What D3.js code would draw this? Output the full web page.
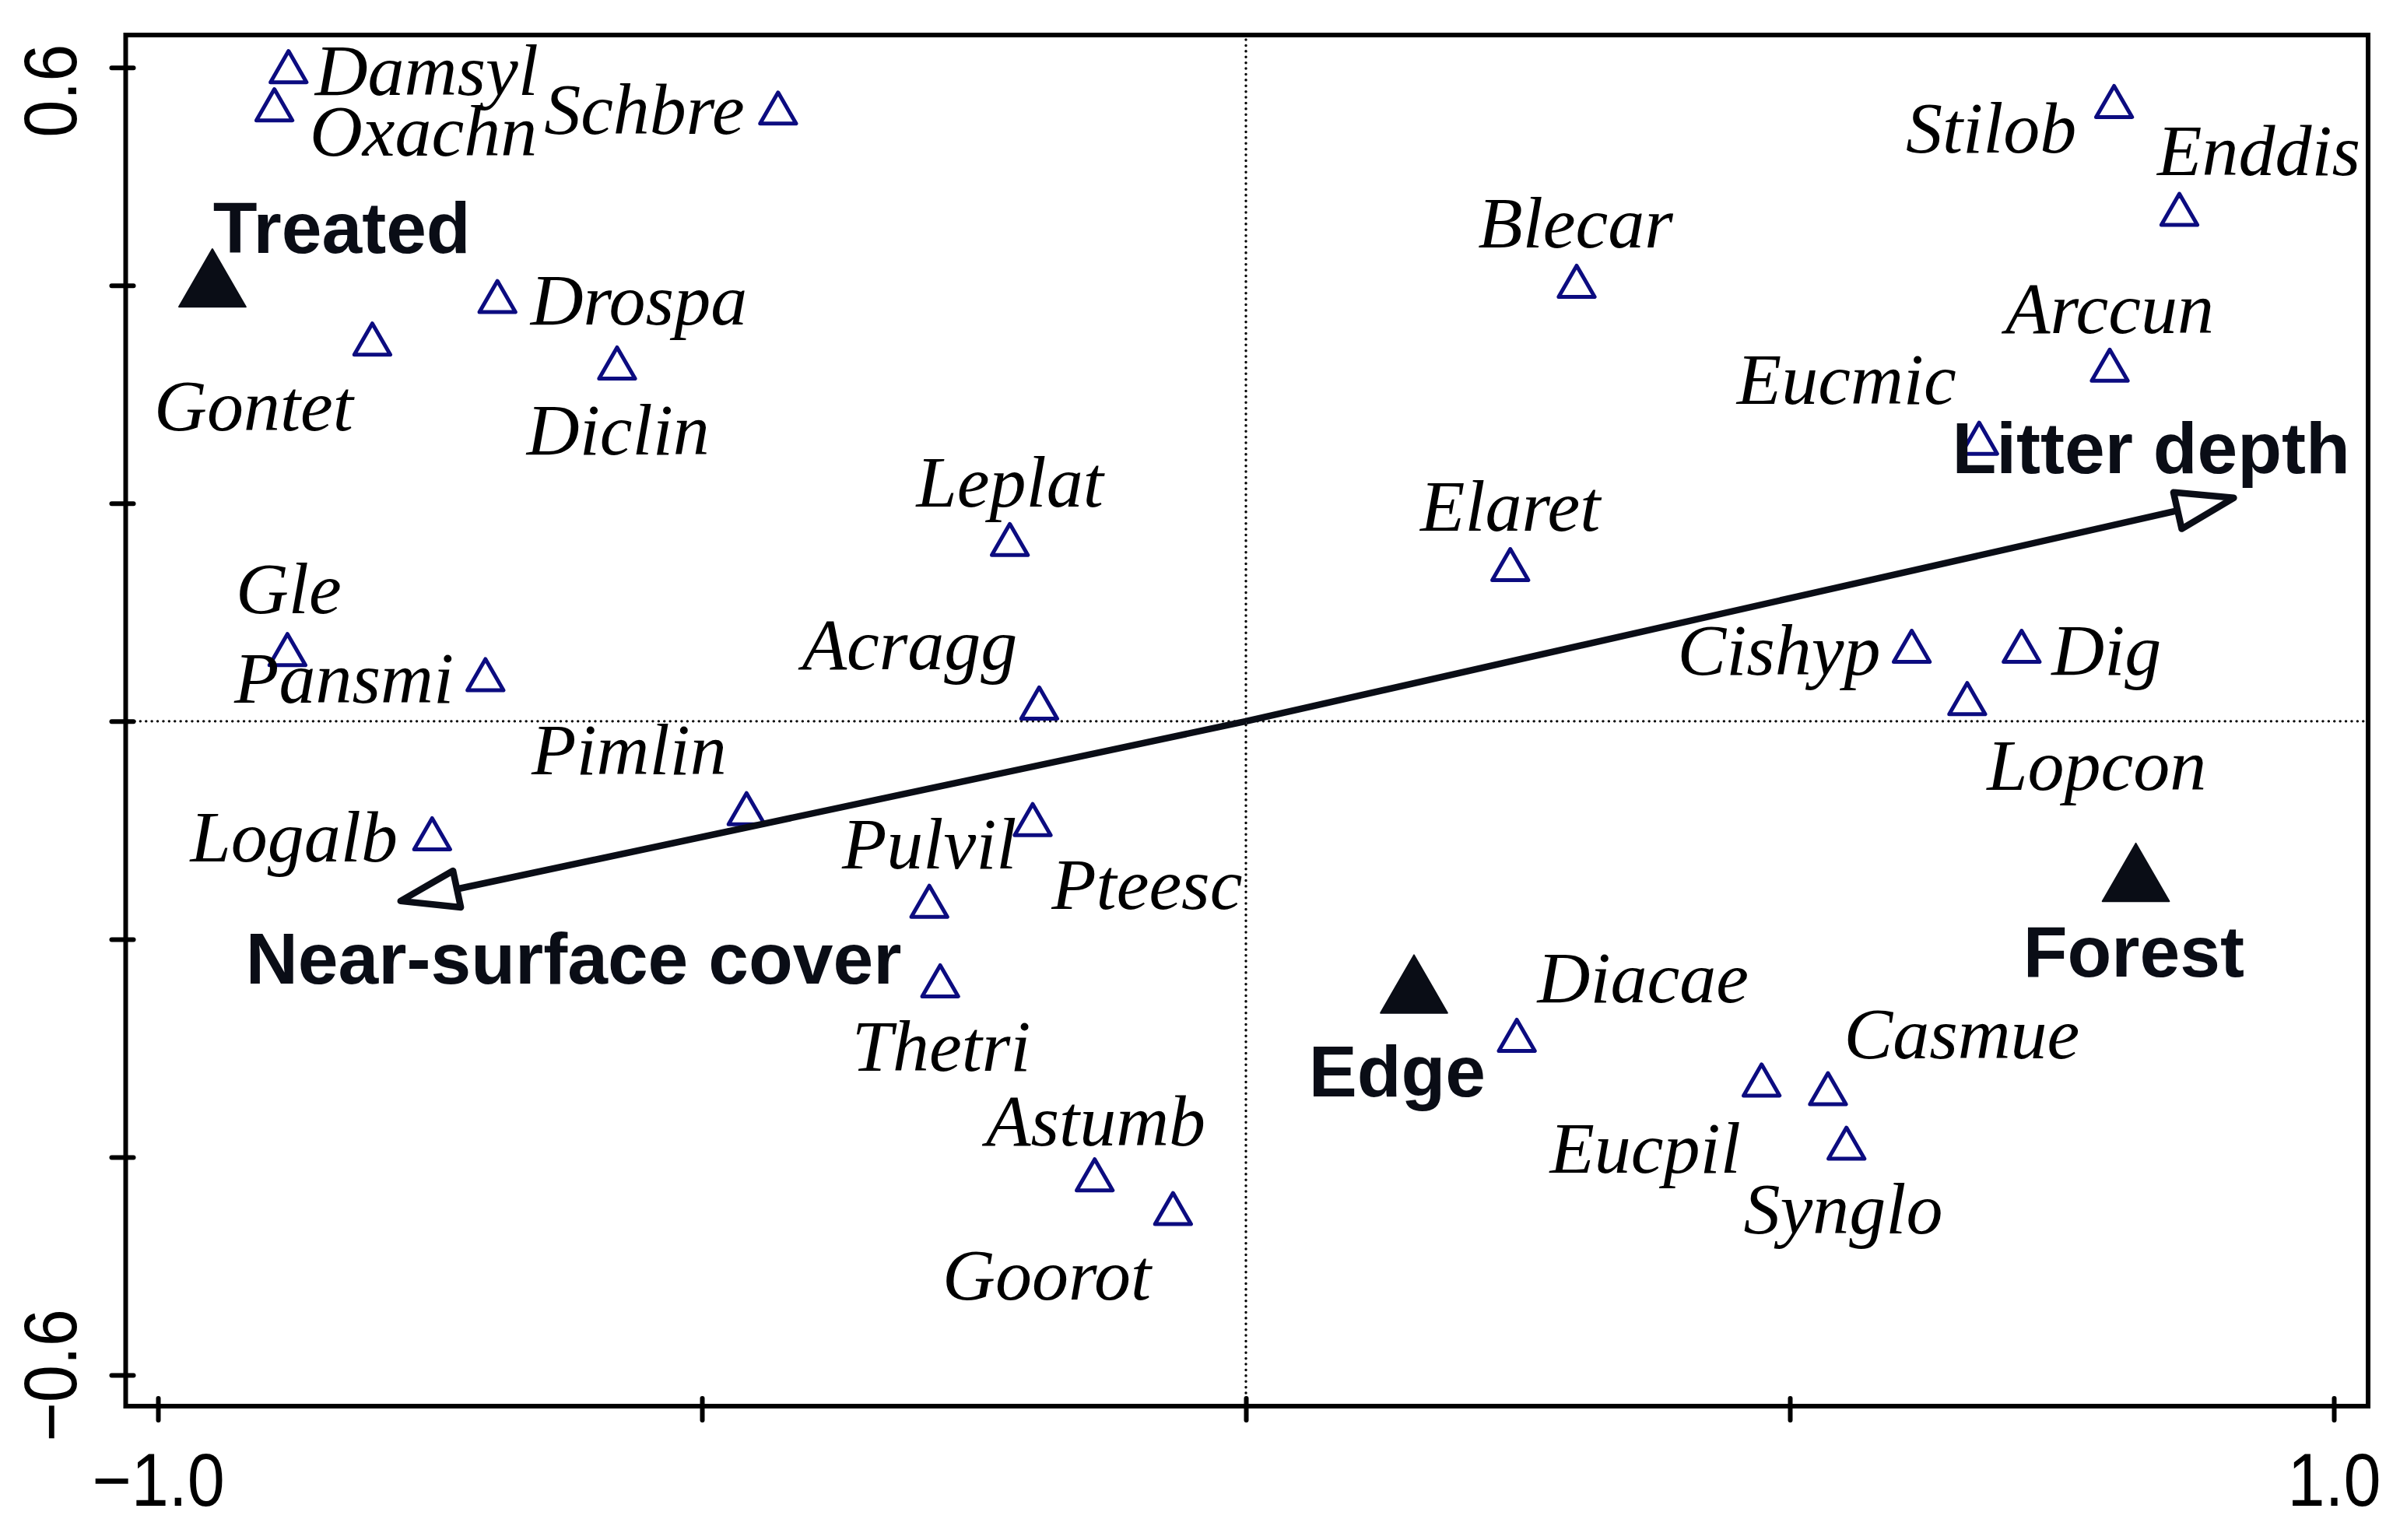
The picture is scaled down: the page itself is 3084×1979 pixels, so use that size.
<!DOCTYPE html>
<html>
<head>
<meta charset="utf-8">
<script src="https://cdn.jsdelivr.net/npm/d3@7"></script>
<style>
  html, body { margin: 0; padding: 0; background: #fff; }
  svg { display: block; }
</style>
</head>
<body>
<svg id="chart" width="3084" height="1979"></svg>
<script>
// ---------------- data ----------------
const speciesNames = ["Damsyl","Oxachn","Schbre","Drospa","Gontet","Diclin","Leplat","Gle","Pansmi","Acragg",
  "Pimlin","Logalb","Pulvil","Pteesc","Thetri","Astumb","Goorot","Blecar","Stilob","Enddis",
  "Arccun","Eucmic","Elaret","Cishyp","Dig","Lopcon","Diacae","Casmue","Eucpil","Synglo"];
const speciesX = [-0.880,-0.893,-0.430,-0.688,-0.803,-0.578,-0.217,-0.881,-0.699,-0.190,
  -0.459,-0.748,-0.196,-0.291,-0.281,-0.139,-0.067,0.304,0.798,0.858,
  0.794,0.674,0.243,0.612,0.713,0.663,0.249,0.535,0.474,0.552];
const speciesY = [0.596,0.561,0.558,0.385,0.346,0.324,0.162,0.061,0.038,0.012,
  -0.085,-0.108,-0.095,-0.170,-0.243,-0.421,-0.452,0.399,0.564,0.465,
  0.322,0.255,0.139,0.064,0.064,0.016,-0.293,-0.342,-0.334,-0.392];
// label anchor (centre x, baseline y) in axis units
const speciesLabelX = [-0.753,-0.756,-0.553,-0.558,-0.912,-0.577,-0.217,-0.880,-0.829,-0.309,
  -0.567,-0.875,-0.291,-0.091,-0.280,-0.138,-0.183,0.303,0.685,0.931,
  0.794,0.552,0.243,0.490,0.791,0.782,0.365,0.658,0.367,0.549];
const speciesLabelY = [0.575,0.519,0.539,0.364,0.267,0.245,0.197,0.099,0.017,0.048,
  -0.049,-0.129,-0.135,-0.172,-0.321,-0.389,-0.531,0.435,0.522,0.501,
  0.356,0.291,0.175,0.043,0.043,-0.063,-0.258,-0.309,-0.414,-0.470];

const siteNames = ["Treated","Edge","Forest"];
const siteX = [-0.950, 0.1545, 0.818];
const siteY = [0.398, -0.250, -0.1475];
const siteLabelX = [-0.831, 0.139, 0.816];
const siteLabelY = [0.430, -0.344, -0.234];

const envNames = ["Litter depth","Near-surface cover"];
const envX = [0.908, -0.777];
const envY = [0.205, -0.165];
const envLabelX = [0.832, -0.618];
const envLabelY = [0.228, -0.241];

const xTickValues = [-1.0, -0.5, 0, 0.5, 1.0];
const xTickLabels = ["\u22121.0", "", "", "", "1.0"];
const yTickValues = [-0.6, -0.4, -0.2, 0, 0.2, 0.4, 0.6];
const yTickLabels = ["\u22120.6", "", "", "", "", "", "0.6"];

// ---------------- layout ----------------
const W = 3084, H = 1979;
const box = {left: 161.5, right: 3043, top: 45, bottom: 1807};
const ink = "#0a0d16";
const navy = "#0c0c80";

const svg = d3.select("#chart");
svg.append("rect").attr("width", W).attr("height", H).attr("fill", "#fff");

const x = d3.scaleLinear().domain([-1, 1]).range([203, 2999]);
const y = d3.scaleLinear().domain([-0.6, 0.6]).range([1767, 86.7]);

// zero reference lines (dotted)
const zero = svg.append("g");
zero.append("line")
  .attr("x1", box.left + 4).attr("x2", box.right - 4)
  .attr("y1", y(0)).attr("y2", y(0))
  .attr("stroke", "#000").attr("stroke-width", 3.4)
  .attr("stroke-linecap", "round").attr("stroke-dasharray", "0.1 7.3");
zero.append("line")
  .attr("y1", box.top + 6).attr("y2", box.bottom - 4)
  .attr("x1", x(0)).attr("x2", x(0))
  .attr("stroke", "#000").attr("stroke-width", 3.4)
  .attr("stroke-linecap", "round").attr("stroke-dasharray", "0.1 7.3");

// species points (open navy triangles)
const spSymbol = d3.symbol().type(d3.symbolTriangle).size(926);
const species = speciesNames.map((n, i) => ({name: n, x: speciesX[i], y: speciesY[i], lx: speciesLabelX[i], ly: speciesLabelY[i]}));

svg.append("g").selectAll("path").data(species).join("path")
  .attr("d", spSymbol)
  .attr("transform", d => `translate(${x(d.x)},${y(d.y)})`)
  .attr("fill", "none").attr("stroke", navy).attr("stroke-width", 5)
  .attr("stroke-linejoin", "round");

svg.append("g").selectAll("text").data(species).join("text")
  .attr("x", d => x(d.lx)).attr("y", d => y(d.ly))
  .attr("text-anchor", "middle")
  .attr("font-family", "'Liberation Serif', 'Times New Roman', serif")
  .attr("font-style", "italic")
  .attr("font-size", 94)
  .attr("fill", "#000")
  .text(d => d.name);

// sites (filled triangles)
const siteSymbol = d3.symbol().type(d3.symbolTriangle).size(3183);
const sites = siteNames.map((n, i) => ({name: n, x: siteX[i], y: siteY[i], lx: siteLabelX[i], ly: siteLabelY[i]}));
svg.append("g").selectAll("path").data(sites).join("path")
  .attr("d", siteSymbol)
  .attr("transform", d => `translate(${x(d.x)},${y(d.y)})`)
  .attr("fill", ink).attr("stroke", ink).attr("stroke-width", 2).attr("stroke-linejoin", "round");

const boldFont = "'Liberation Sans', Arial, sans-serif";
svg.append("g").selectAll("text").data(sites).join("text")
  .attr("x", d => x(d.lx)).attr("y", d => y(d.ly))
  .attr("text-anchor", "middle")
  .attr("font-family", boldFont).attr("font-weight", "bold")
  .attr("font-size", 93).attr("fill", ink)
  .text(d => d.name);

// environmental vectors
const env = envNames.map((n, i) => ({name: n, x: envX[i], y: envY[i], lx: envLabelX[i], ly: envLabelY[i]}));
const headLen = 74, headHalf = 24;
const arrows = svg.append("g");
env.forEach(d => {
  const x0 = x(0), y0 = y(0), x1 = x(d.x), y1 = y(d.y);
  const dx = x1 - x0, dy = y1 - y0, L = Math.hypot(dx, dy);
  const ux = dx / L, uy = dy / L;
  const bx = x1 - ux * headLen, by = y1 - uy * headLen;
  arrows.append("line")
    .attr("x1", x0).attr("y1", y0).attr("x2", bx).attr("y2", by)
    .attr("stroke", ink).attr("stroke-width", 8.5);
  const pts = [[x1, y1], [bx - uy * headHalf, by + ux * headHalf], [bx + uy * headHalf, by - ux * headHalf]];
  arrows.append("polygon")
    .attr("points", pts.map(p => p.join(",")).join(" "))
    .attr("fill", "#fff").attr("stroke", ink).attr("stroke-width", 8.5)
    .attr("stroke-linejoin", "round");
});
svg.append("g").selectAll("text").data(env).join("text")
  .attr("x", d => x(d.lx)).attr("y", d => y(d.ly))
  .attr("text-anchor", "middle")
  .attr("font-family", boldFont).attr("font-weight", "bold")
  .attr("font-size", 93).attr("fill", ink)
  .text(d => d.name);

// frame
svg.append("rect")
  .attr("x", box.left).attr("y", box.top)
  .attr("width", box.right - box.left).attr("height", box.bottom - box.top)
  .attr("fill", "none").attr("stroke", "#000").attr("stroke-width", 6);

// axes
const xAxis = d3.axisBottom(x).tickValues(xTickValues)
  .tickFormat((d, i) => xTickLabels[i]).tickSizeOuter(0);
const gx = svg.append("g").attr("transform", `translate(0,${box.bottom})`).call(xAxis);
gx.select(".domain").remove();
gx.selectAll(".tick line").attr("y1", -10).attr("y2", 18)
  .attr("stroke", "#000").attr("stroke-width", 6).attr("stroke-linecap", "round");
gx.selectAll(".tick text")
  .attr("y", 128).attr("dy", 0).attr("x", 0)
  .attr("font-family", "'Liberation Sans', Arial, sans-serif")
  .style("font-size", "96px").attr("fill", "#000")
  .attr("transform", "scale(0.9,1)");

const yAxis = d3.axisLeft(y).tickValues(yTickValues)
  .tickFormat((d, i) => yTickLabels[i]).tickSizeOuter(0);
const gy = svg.append("g").attr("transform", `translate(${box.left},0)`).call(yAxis);
gy.select(".domain").remove();
gy.selectAll(".tick line").attr("x1", -18).attr("x2", 10)
  .attr("stroke", "#000").attr("stroke-width", 6).attr("stroke-linecap", "round");
// tick labels rotated, nudged toward the plot centre as in the source figure
const yShift = {"0.6": 29.5, "-0.6": -44};
gy.selectAll(".tick text")
  .attr("x", null).attr("dy", 0).attr("text-anchor", "middle")
  .attr("font-family", "'Liberation Sans', Arial, sans-serif")
  .style("font-size", "96px").attr("fill", "#000")
  .attr("transform", d => `translate(${-64},${yShift[d3.format(".1f")(d)] || 0}) rotate(-90) scale(0.9,1)`);
</script>
</body>
</html>
